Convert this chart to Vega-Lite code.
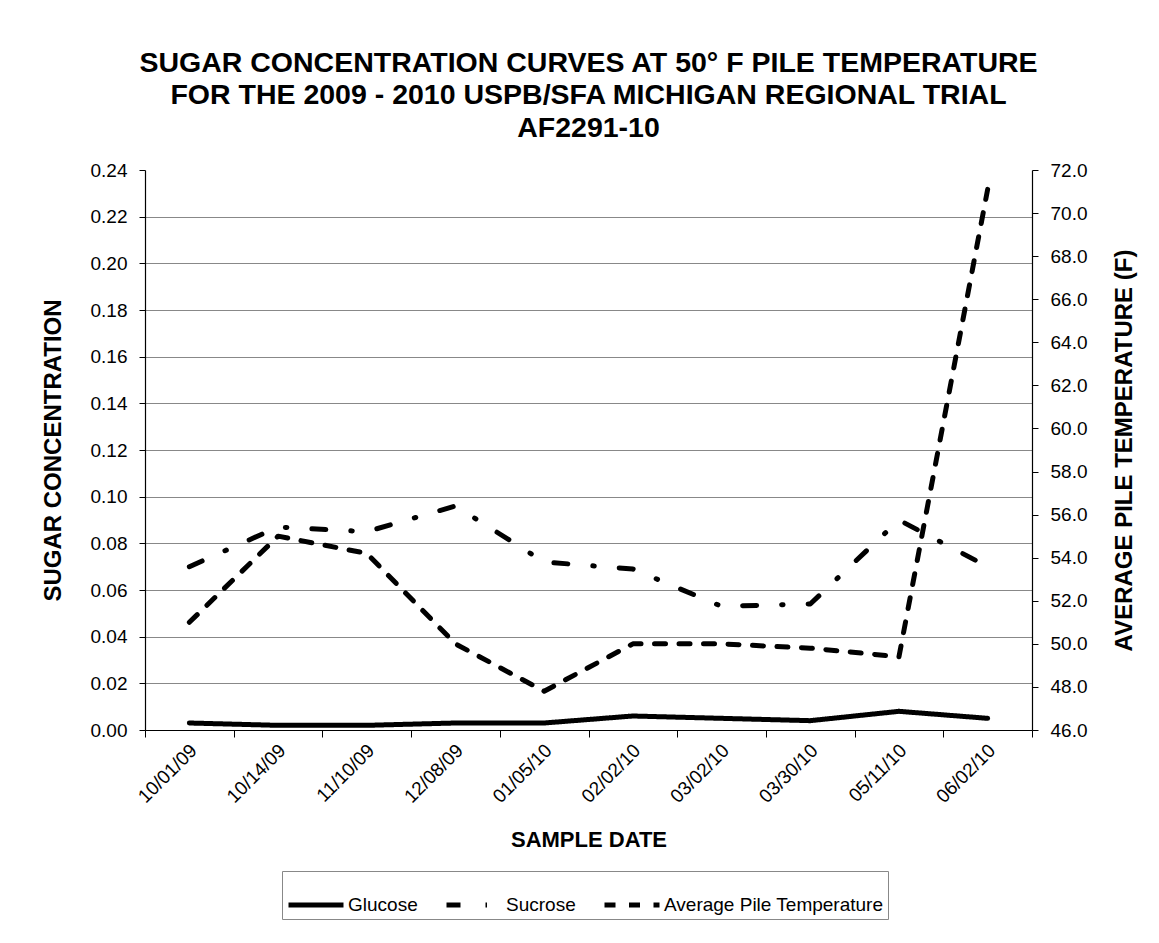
{
  "$schema": "https://vega.github.io/schema/vega-lite/v6.json",
  "autosize": {"type": "none"},
  "padding": {"left": 145, "top": 170, "right": 127, "bottom": 213},
  "width": 887,
  "height": 560,
  "background": "white",
  "config": {
    "font": "Liberation Sans",
    "view": {"stroke": null},
    "axis": {"labelFont": "Liberation Sans", "titleFont": "Liberation Sans", "labelColor": "black", "titleColor": "black", "domainColor": "black", "tickColor": "black", "domainWidth": 1.2, "tickWidth": 1}
  },
  "title": {
    "text": ["SUGAR CONCENTRATION CURVES AT 50° F PILE TEMPERATURE", "FOR THE 2009 - 2010 USPB/SFA MICHIGAN REGIONAL TRIAL", "AF2291-10"],
    "font": "Liberation Sans",
    "fontSize": 28.5,
    "fontWeight": "bold",
    "lineHeight": 32.5,
    "anchor": "middle",
    "offset": 19,
    "color": "black"
  },
  "data": {
    "values": [
      {"date": "10/01/09", "series": "Glucose", "value": 0.003},
      {"date": "10/14/09", "series": "Glucose", "value": 0.002},
      {"date": "11/10/09", "series": "Glucose", "value": 0.002},
      {"date": "12/08/09", "series": "Glucose", "value": 0.003},
      {"date": "01/05/10", "series": "Glucose", "value": 0.003},
      {"date": "02/02/10", "series": "Glucose", "value": 0.006},
      {"date": "03/02/10", "series": "Glucose", "value": 0.005},
      {"date": "03/30/10", "series": "Glucose", "value": 0.004},
      {"date": "05/11/10", "series": "Glucose", "value": 0.008},
      {"date": "06/02/10", "series": "Glucose", "value": 0.005},
      {"date": "10/01/09", "series": "Sucrose", "value": 0.070},
      {"date": "10/14/09", "series": "Sucrose", "value": 0.087},
      {"date": "11/10/09", "series": "Sucrose", "value": 0.085},
      {"date": "12/08/09", "series": "Sucrose", "value": 0.096},
      {"date": "01/05/10", "series": "Sucrose", "value": 0.072},
      {"date": "02/02/10", "series": "Sucrose", "value": 0.069},
      {"date": "03/02/10", "series": "Sucrose", "value": 0.053},
      {"date": "03/30/10", "series": "Sucrose", "value": 0.054},
      {"date": "05/11/10", "series": "Sucrose", "value": 0.090},
      {"date": "06/02/10", "series": "Sucrose", "value": 0.070},
      {"date": "10/01/09", "series": "Average Pile Temperature", "value": 51.0},
      {"date": "10/14/09", "series": "Average Pile Temperature", "value": 55.0},
      {"date": "11/10/09", "series": "Average Pile Temperature", "value": 54.2},
      {"date": "12/08/09", "series": "Average Pile Temperature", "value": 50.0},
      {"date": "01/05/10", "series": "Average Pile Temperature", "value": 47.8},
      {"date": "02/02/10", "series": "Average Pile Temperature", "value": 50.0},
      {"date": "03/02/10", "series": "Average Pile Temperature", "value": 50.0},
      {"date": "03/30/10", "series": "Average Pile Temperature", "value": 49.8},
      {"date": "05/11/10", "series": "Average Pile Temperature", "value": 49.4},
      {"date": "06/02/10", "series": "Average Pile Temperature", "value": 71.1}
    ]
  },
  "encoding": {
    "x": {
      "field": "date",
      "type": "ordinal",
      "sort": null,
      "bandPosition": 0.5,
      "scale": {"type": "band", "paddingInner": 0, "paddingOuter": 0},
      "axis": {
        "title": "SAMPLE DATE",
        "titleFontSize": 22,
        "titleFontWeight": "bold",
        "titlePadding": 23,
        "labelFontSize": 19,
        "labelAngle": -45,
        "labelAlign": "right",
        "labelBaseline": "middle",
        "labelPadding": 10,
        "labelOffset": 4,
        "tickBand": "extent",
        "tickSize": 7,
        "grid": false
      }
    },
    "strokeDash": {
      "field": "series",
      "type": "nominal",
      "scale": {
        "domain": ["Glucose", "Sucrose", "Average Pile Temperature"],
        "range": [[1, 0], [14, 25, 1.5, 25], [11, 13.5]]
      },
      "legend": {
        "title": null,
        "orient": "none",
        "legendX": 137,
        "legendY": 701,
        "direction": "horizontal",
        "symbolType": "stroke",
        "symbolSize": 3025,
        "symbolStrokeWidth": 5,
        "symbolStrokeColor": "black",
        "labelFontSize": 19,
        "labelFont": "Liberation Sans",
        "labelColor": "black",
        "labelOffset": 2,
        "columnPadding": 18,
        "padding": 4,
        "strokeColor": "#888888",
        "labelLimit": 400
      }
    }
  },
  "layer": [
    {
      "transform": [{"filter": "datum.series !== 'Average Pile Temperature'"}],
      "mark": {"type": "line", "color": "black", "strokeWidth": 5, "strokeCap": "round", "strokeJoin": "round"},
      "encoding": {
        "y": {
          "field": "value",
          "type": "quantitative",
          "scale": {"domain": [0, 0.24], "nice": false, "zero": false},
          "axis": {
            "title": "SUGAR CONCENTRATION",
            "titleFontSize": 24,
            "titleFontWeight": "bold",
            "titlePadding": 25,
            "labelFontSize": 19,
            "labelPadding": 12,
            "tickSize": 6,
            "format": ".2f",
            "values": [0, 0.02, 0.04, 0.06, 0.08, 0.10, 0.12, 0.14, 0.16, 0.18, 0.20, 0.22, 0.24],
            "grid": true,
            "gridColor": "#888888",
            "gridWidth": 1,
            "gridOpacity": {"condition": {"test": "datum.value > 0.239", "value": 0}, "value": 1}
          }
        }
      }
    },
    {
      "transform": [{"filter": "datum.series === 'Average Pile Temperature'"}],
      "mark": {"type": "line", "color": "black", "strokeWidth": 5, "strokeCap": "round", "strokeJoin": "round"},
      "encoding": {
        "y": {
          "field": "value",
          "type": "quantitative",
          "scale": {"domain": [46, 72], "nice": false, "zero": false},
          "axis": {
            "orient": "right",
            "title": "AVERAGE PILE TEMPERATURE (F)",
            "titleFontSize": 24,
            "titleFontWeight": "bold",
            "titleAngle": 270,
            "titlePadding": 50,
            "labelFontSize": 19,
            "labelPadding": 12,
            "tickSize": 6,
            "format": ".1f",
            "values": [46, 48, 50, 52, 54, 56, 58, 60, 62, 64, 66, 68, 70, 72],
            "grid": false
          }
        }
      }
    }
  ],
  "resolve": {"scale": {"y": "independent"}}
}
